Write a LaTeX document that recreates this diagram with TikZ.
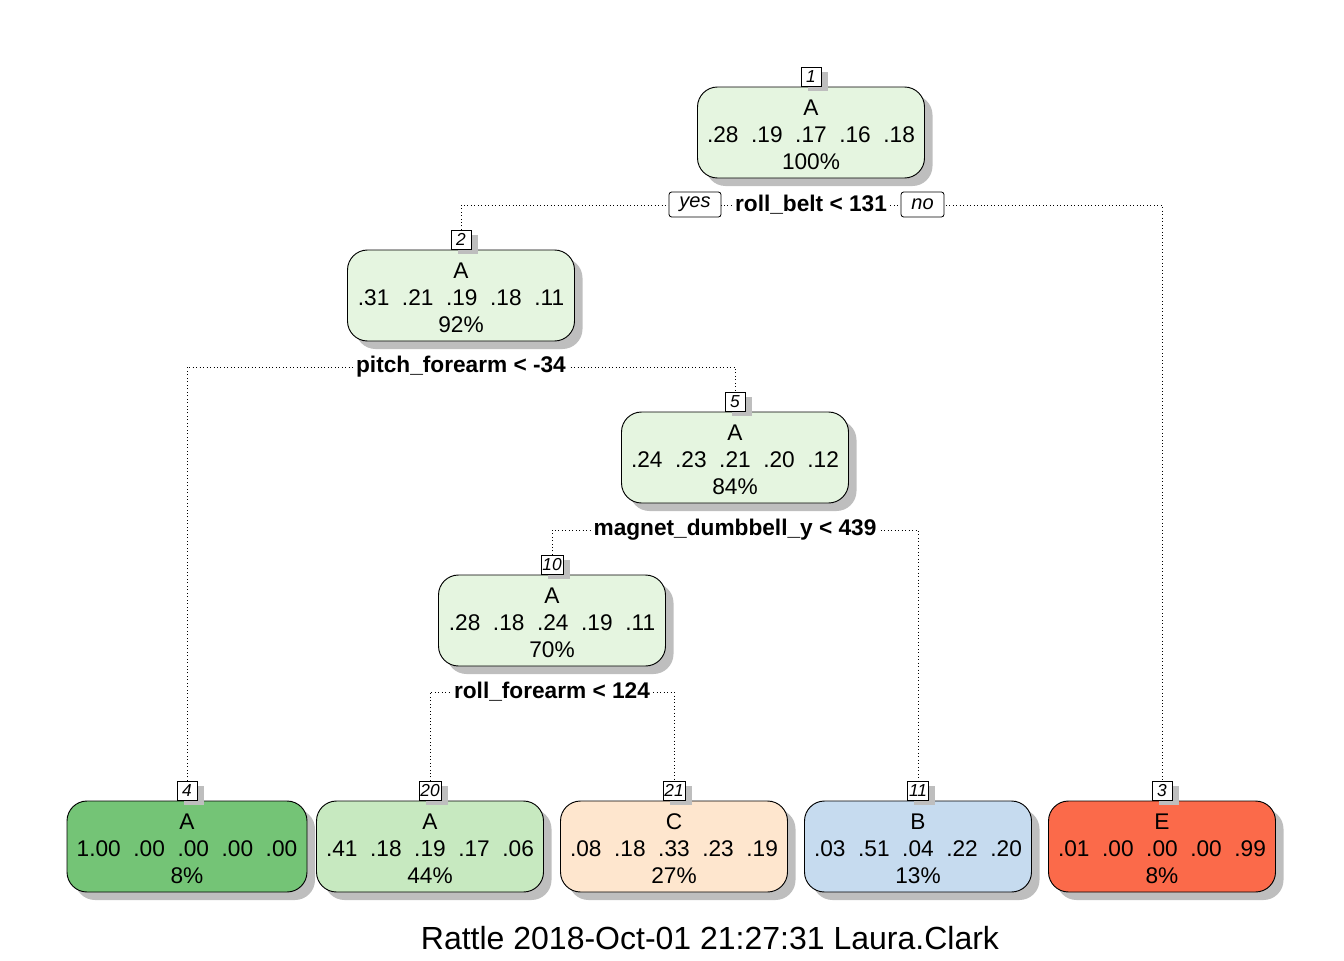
\documentclass[tikz,border=0pt]{standalone}
\usepackage{fontspec}
\setmainfont{Liberation Sans}
\usetikzlibrary{shadows,backgrounds}
\definecolor{gInner}{HTML}{E5F5E0}
\definecolor{gDark}{HTML}{74C476}
\definecolor{gMid}{HTML}{C7E9C0}
\definecolor{oLight}{HTML}{FEE6CE}
\definecolor{bLight}{HTML}{C6DBEF}
\definecolor{rMid}{HTML}{FB6A4A}
\definecolor{shadowgray}{HTML}{BEBEBE}
\newcommand{\topstrut}{\rule{0pt}{15pt}}
\tikzset{
  tnode/.style={draw=black, line width=0.7pt, rounded corners=15pt,
    minimum width=170.25pt, minimum height=68.25pt, align=center,
    font=\fontsize{17}{20.5}\selectfont, inner sep=0pt,
    drop shadow={shadow xshift=6pt, shadow yshift=-6pt, fill=shadowgray, opacity=1}},
  numbox/.style={draw=black, line width=0.6pt, fill=white,
    font=\fontsize{13}{13}\selectfont\itshape, minimum width=15pt,
    minimum height=14.25pt, inner sep=1pt, anchor=south,
    drop shadow={shadow xshift=5pt, shadow yshift=-4pt, fill=shadowgray, opacity=1}},
  ynbox/.style={draw=black, line width=0.6pt, fill=white, rounded corners=2pt,
    font=\fontsize{15}{15}\selectfont\itshape, minimum height=18.75pt, inner sep=1pt},
  splitlab/.style={fill=white, font=\fontsize{17}{17}\selectfont\bfseries,
    inner xsep=2pt, inner ysep=1pt},
  edge/.style={dotted, line width=0.6pt}
}
\begin{document}
\begin{tikzpicture}[x=0.75pt, y=-0.75pt]
\useasboundingbox (0,0) rectangle (1344,960);
% internal nodes
\node[tnode, fill=gInner] (n1) at (811,132.5) {\topstrut A\\.28~~.19~~.17~~.16~~.18\\100\%};
\node[tnode, fill=gInner] (n2) at (461,295.5) {\topstrut A\\.31~~.21~~.19~~.18~~.11\\92\%};
\node[tnode, fill=gInner] (n5) at (735,457.5) {\topstrut A\\.24~~.23~~.21~~.20~~.12\\84\%};
\node[tnode, fill=gInner] (n10) at (552,620.5) {\topstrut A\\.28~~.18~~.24~~.19~~.11\\70\%};
% leaves
\node[tnode, fill=gDark, minimum width=180pt] (n4) at (187,846.5) {\topstrut A\\1.00~~.00~~.00~~.00~~.00\\8\%};
\node[tnode, fill=gMid] (n20) at (430,846.5) {\topstrut A\\.41~~.18~~.19~~.17~~.06\\44\%};
\node[tnode, fill=oLight] (n21) at (674,846.5) {\topstrut C\\.08~~.18~~.33~~.23~~.19\\27\%};
\node[tnode, fill=bLight] (n11) at (918,846.5) {\topstrut B\\.03~~.51~~.04~~.22~~.20\\13\%};
\node[tnode, fill=rMid] (n3) at (1162,846.5) {\topstrut E\\.01~~.00~~.00~~.00~~.99\\8\%};
% number boxes
\node[numbox] (l1) at (n1.north) {1};
\node[numbox] (l2) at (n2.north) {2};
\node[numbox] (l5) at (n5.north) {5};
\node[numbox] (l10) at (n10.north) {10};
\node[numbox] (l4) at (n4.north) {4};
\node[numbox] (l20) at (n20.north) {20};
\node[numbox] (l21) at (n21.north) {21};
\node[numbox] (l11) at (n11.north) {11};
\node[numbox] (l3) at (n3.north) {3};
% split labels
\node[splitlab] (s1) at (811,205) {roll\_belt < 131};
\node[splitlab] (s2) at (461,367) {pitch\_forearm < -34};
\node[splitlab] (s5) at (735,530) {magnet\_dumbbell\_y < 439};
\node[splitlab] (s10) at (552,692) {roll\_forearm < 124};
\node[ynbox, minimum width=39pt] (yes) at (695,204.5) {yes};
\node[ynbox, minimum width=32.25pt] (no) at (922.5,204.5) {no};
% connectors
\begin{scope}[on background layer]
\draw[edge] (l2.north) |- (s1.center) -| (l3.north);
\draw[edge] (l4.north) |- (s2.center) -| (l5.north);
\draw[edge] (l10.north) |- (s5.center) -| (l11.north);
\draw[edge] (l20.north) |- (s10.center) -| (l21.north);
\end{scope}
% caption
\node[font=\fontsize{24}{24}\selectfont] (cap) at (710,938) {Rattle 2018-Oct-01 21:27:31 Laura.Clark};
\end{tikzpicture}
\end{document}
